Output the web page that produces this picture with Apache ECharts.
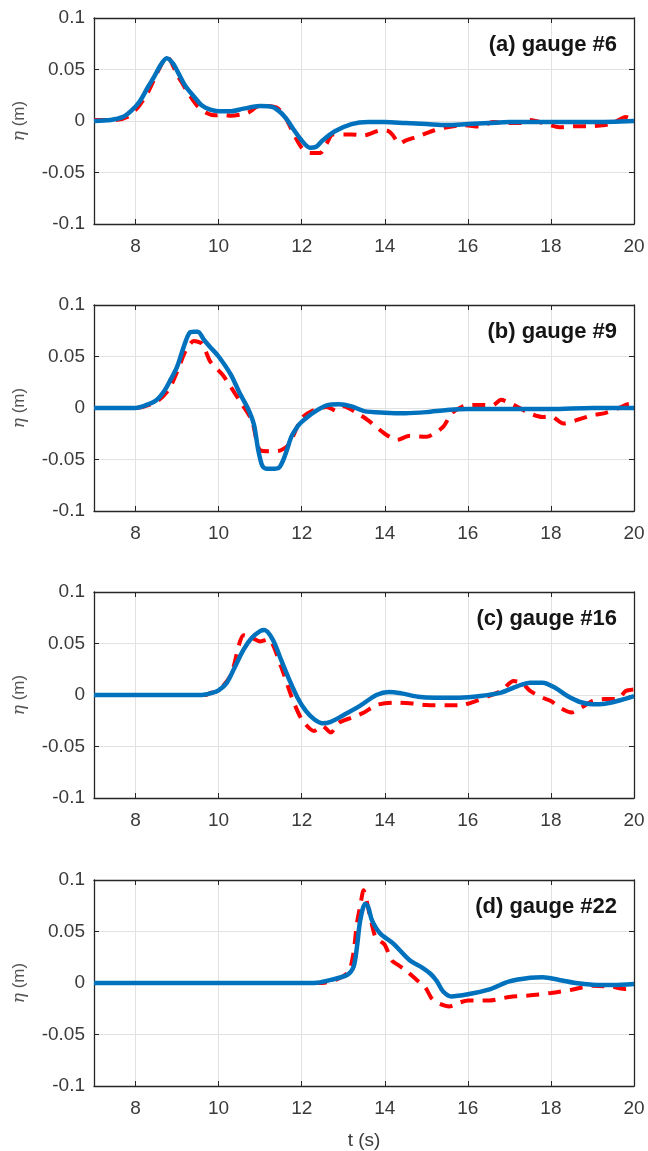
<!DOCTYPE html>
<html>
<head>
<meta charset="utf-8">
<script src="https://cdn.jsdelivr.net/npm/echarts@6/dist/echarts.min.js"></script>
<style>
  html, body { margin: 0; padding: 0; background: #ffffff; }
  #chart { width: 648px; height: 1151px; }
</style>
</head>
<body>
<div id="chart"></div>
<script>
// Free-surface elevation at four wave gauges: measured (red dashed) vs simulated (blue)
const panelLabels = ['(a) gauge #6', '(b) gauge #9', '(c) gauge #16', '(d) gauge #22'];
const xTicks = [8, 10, 12, 14, 16, 18, 20];
const yTicks = [-0.1, -0.05, 0, 0.05, 0.1];

// (a) gauge #6
const tA_obs = [7.0, 7.5, 7.8, 8.05, 8.3, 8.5, 8.65, 8.75, 8.85, 9.0, 9.15, 9.3, 9.5, 9.7, 9.9, 10.1, 10.3, 10.7, 11.0, 11.4, 11.6, 11.8, 12.0, 12.2, 12.45, 12.6, 12.75, 13.2, 13.5, 13.9, 14.1, 14.2, 14.35, 14.5, 14.8, 15.2, 15.5, 15.9, 16.3, 16.6, 17.0, 17.3, 17.5, 17.9, 18.2, 18.6, 19.0, 19.3, 19.5, 19.8, 20.0];
const etaA_obs = [0.001, 0.001, 0.004, 0.013, 0.028, 0.045, 0.057, 0.063, 0.058, 0.045, 0.035, 0.025, 0.014, 0.008, 0.0055, 0.006, 0.005, 0.008, 0.015, 0.013, 0.004, -0.012, -0.026, -0.031, -0.031, -0.022, -0.013, -0.013, -0.014, -0.009, -0.010, -0.014, -0.022, -0.019, -0.015, -0.009, -0.006, -0.004, -0.0055, -0.001, -0.002, -0.002, 0.001, -0.003, -0.006, -0.005, -0.005, -0.004, -0.002, 0.004, 0.001];
const tA_sim = [7.0, 7.4, 7.7, 7.9, 8.1, 8.3, 8.45, 8.6, 8.75, 8.9, 9.05, 9.2, 9.4, 9.6, 9.8, 10.0, 10.3, 10.6, 11.0, 11.3, 11.5, 11.65, 11.8, 12.0, 12.2, 12.35, 12.5, 12.8, 13.2, 13.6, 14.0, 14.5, 15.0, 15.5, 16.0, 16.5, 17.0, 18.0, 19.0, 20.0];
const etaA_sim = [0, 0.001, 0.004, 0.010, 0.019, 0.033, 0.043, 0.054, 0.061, 0.056, 0.045, 0.034, 0.024, 0.015, 0.011, 0.0095, 0.0095, 0.012, 0.0145, 0.0135, 0.008, 0.001, -0.008, -0.019, -0.026, -0.025, -0.019, -0.010, -0.003, -0.001, -0.001, -0.002, -0.003, -0.004, -0.003, -0.002, -0.001, -0.001, -0.001, 0];

// (b) gauge #9
const tB_obs = [7.0, 8.0, 8.5, 8.8, 9.0, 9.2, 9.4, 9.6, 9.8, 10.1, 10.3, 10.5, 10.8, 11.0, 11.3, 11.5, 11.7, 12.0, 12.3, 12.6, 12.85, 13.0, 13.3, 13.6, 14.0, 14.3, 14.6, 15.0, 15.4, 15.6, 15.8, 16.0, 16.4, 16.6, 16.8, 17.0, 17.2, 17.5, 17.8, 18.0, 18.3, 18.6, 19.0, 19.3, 19.6, 19.9, 20.0];
const etaB_obs = [0, 0, 0.006, 0.018, 0.035, 0.055, 0.065, 0.0625, 0.045, 0.032, 0.020, 0.0075, -0.012, -0.041, -0.042, -0.041, -0.035, -0.010, -0.002, 0.001, -0.003, 0.0016, -0.004, -0.012, -0.025, -0.031, -0.027, -0.028, -0.0185, -0.0055, 0, 0.003, 0.003, 0.0026, 0.008, 0.005, 0.001, -0.0055, -0.0087, -0.008, -0.015, -0.012, -0.007, -0.005, -0.0006, 0.004, 0.004];
const tB_sim = [7.0, 8.0, 8.3, 8.5, 8.7, 8.85, 9.0, 9.1, 9.2, 9.3, 9.4, 9.5, 9.65, 9.8, 10.0, 10.3, 10.5, 10.7, 10.85, 10.95, 11.05, 11.15, 11.3, 11.45, 11.55, 11.65, 11.75, 11.9, 12.0, 12.3, 12.6, 12.9, 13.2, 13.5, 14.0, 14.5, 15.0, 15.5, 16.0, 17.0, 18.0, 19.0, 20.0];
const etaB_sim = [0, 0, 0.0035, 0.0075, 0.017, 0.028, 0.040, 0.052, 0.064, 0.073, 0.074, 0.074, 0.066, 0.059, 0.050, 0.032, 0.015, 0.000, -0.016, -0.040, -0.056, -0.059, -0.059, -0.058, -0.051, -0.040, -0.028, -0.018, -0.0135, -0.004, 0.0026, 0.0036, 0.0016, -0.003, -0.0045, -0.005, -0.004, -0.002, -0.001, -0.001, -0.001, 0, 0];

// (c) gauge #16
const tC_obs = [7.0, 9.7, 9.8, 10.0, 10.3, 10.5, 10.6, 10.8, 11.0, 11.2, 11.5, 11.75, 12.0, 12.3, 12.5, 12.7, 12.9, 13.2, 13.5, 13.8, 14.2, 14.6, 15.0, 15.5, 15.9, 16.2, 16.5, 16.8, 17.1, 17.3, 17.5, 17.8, 18.0, 18.2, 18.5, 18.8, 19.0, 19.3, 19.6, 19.8, 20.0];
const etaC_obs = [0, 0, 0.002, 0.004, 0.020, 0.050, 0.058, 0.0555, 0.052, 0.054, 0.028, -0.001, -0.0235, -0.035, -0.030, -0.0365, -0.0268, -0.022, -0.017, -0.0097, -0.0074, -0.008, -0.0097, -0.010, -0.0094, -0.0058, -0.001, 0.0039, 0.0135, 0.012, 0.0039, -0.0026, -0.0058, -0.012, -0.017, -0.0106, -0.0058, -0.004, -0.004, 0.0039, 0.0055];
const tC_sim = [7.0, 9.6, 9.8, 10.0, 10.2, 10.4, 10.6, 10.8, 11.0, 11.1, 11.3, 11.5, 11.7, 11.9, 12.1, 12.3, 12.5, 12.7, 13.0, 13.4, 13.8, 14.1, 14.4, 14.8, 15.2, 15.8, 16.3, 16.8, 17.2, 17.5, 17.8, 18.1, 18.4, 18.7, 19.0, 19.3, 19.6, 20.0];
const etaC_sim = [0, 0, 0.0016, 0.0045, 0.012, 0.028, 0.044, 0.0555, 0.062, 0.063, 0.054, 0.0345, 0.015, -0.0026, -0.0155, -0.0235, -0.0274, -0.026, -0.0197, -0.0106, 0, 0.003, 0.0016, -0.0016, -0.0026, -0.0026, -0.001, 0.0023, 0.0087, 0.012, 0.012, 0.007, -0.001, -0.0068, -0.009, -0.0084, -0.0058, -0.001];

// (d) gauge #22
const tD_obs = [7.0, 12.5, 12.8, 13.0, 13.15, 13.25, 13.33, 13.41, 13.49, 13.55, 13.65, 13.77, 13.88, 14.0, 14.17, 14.3, 14.5, 14.77, 14.97, 15.13, 15.25, 15.55, 15.8, 16.0, 16.5, 17.0, 17.5, 18.0, 18.5, 19.0, 19.5, 19.8, 20.0];
const etaD_obs = [0, 0, 0.003, 0.0065, 0.012, 0.030, 0.058, 0.075, 0.090, 0.082, 0.064, 0.045, 0.041, 0.037, 0.022, 0.018, 0.0125, 0.003, -0.004, -0.015, -0.019, -0.0227, -0.019, -0.017, -0.017, -0.0136, -0.012, -0.0097, -0.0065, -0.0026, -0.004, -0.0058, -0.004];
const tD_sim = [7.0, 12.3, 12.7, 13.1, 13.25, 13.33, 13.41, 13.53, 13.6, 13.69, 13.89, 14.2, 14.6, 14.9, 15.1, 15.25, 15.4, 15.6, 16.0, 16.5, 17.0, 17.5, 17.8, 18.2, 18.6, 19.0, 19.5, 20.0];
const etaD_sim = [0, 0, 0.003, 0.008, 0.016, 0.035, 0.061, 0.077, 0.074, 0.061, 0.048, 0.0385, 0.022, 0.015, 0.009, 0.002, -0.008, -0.013, -0.011, -0.0065, 0.0015, 0.005, 0.0055, 0.003, 0, -0.0016, -0.002, -0.001];

const observed = [[tA_obs, etaA_obs], [tB_obs, etaB_obs], [tC_obs, etaC_obs], [tD_obs, etaD_obs]];
const simulated = [[tA_sim, etaA_sim], [tB_sim, etaB_sim], [tC_sim, etaC_sim], [tD_sim, etaD_sim]];

const zip = (t, v) => t.map((x, i) => [x, v[i]]);

const FONT = '"Liberation Sans", Arial, Helvetica, sans-serif';
const AXIS_COLOR = '#262626';
const LABEL_COLOR = '#3a3a3a';
const GRID_COLOR = '#e2e2e2';
const gridTops = [18, 305, 592, 880];
const gridHeight = 206;

const grids = [], xAxes = [], yAxes = [], series = [], titles = [];

gridTops.forEach((top, i) => {
  grids.push({ left: 94, right: 14, top: top, height: gridHeight, containLabel: false });

  const axisLine = { show: true, onZero: false, lineStyle: { color: AXIS_COLOR, width: 1.3 } };
  const tick = { show: true, inside: true, length: 5, lineStyle: { color: AXIS_COLOR, width: 1 } };

  xAxes.push({
    gridIndex: i, type: 'value', min: 7, max: 20, position: 'bottom',
    axisLine: axisLine,
    axisTick: Object.assign({ customValues: xTicks }, tick),
    axisLabel: { customValues: xTicks, color: LABEL_COLOR, fontFamily: FONT, fontSize: 19, margin: 13 },
    splitLine: { show: true, lineStyle: { color: GRID_COLOR, width: 1 } },
    name: i === 3 ? 't (s)' : '',
    nameLocation: 'middle', nameGap: 45,
    nameTextStyle: { color: LABEL_COLOR, fontFamily: FONT, fontSize: 19 }
  });
  xAxes.push({
    gridIndex: i, type: 'value', min: 7, max: 20, position: 'top',
    axisLine: axisLine,
    axisTick: Object.assign({ customValues: xTicks }, tick),
    axisLabel: { show: false },
    splitLine: { show: false }
  });
  yAxes.push({
    gridIndex: i, type: 'value', min: -0.1, max: 0.1, interval: 0.05, position: 'left',
    axisLine: axisLine,
    axisTick: tick,
    axisLabel: {
      color: LABEL_COLOR, fontFamily: FONT, fontSize: 19, margin: 9,
      formatter: v => String(parseFloat(v.toFixed(2)))
    },
    splitLine: { show: true, lineStyle: { color: GRID_COLOR, width: 1 } },
    name: '{e|η} (m)',
    nameLocation: 'middle', nameGap: 66, nameRotate: 90,
    nameTextStyle: {
      color: '#555', fontFamily: FONT, fontSize: 17,
      rich: { e: { color: '#555', fontFamily: '"DejaVu Serif", serif', fontStyle: 'italic', fontSize: 17 } }
    }
  });
  yAxes.push({
    gridIndex: i, type: 'value', min: -0.1, max: 0.1, interval: 0.05, position: 'right',
    axisLine: axisLine,
    axisTick: tick,
    axisLabel: { show: false },
    splitLine: { show: false }
  });

  titles.push({
    text: panelLabels[i], right: 31, top: top + 16, padding: 0,
    textStyle: { fontFamily: FONT, fontSize: 22, fontWeight: 'bold', color: '#151515' }
  });

  series.push({
    type: 'line', xAxisIndex: 2 * i, yAxisIndex: 2 * i,
    data: zip(observed[i][0], observed[i][1]),
    showSymbol: false, symbol: 'none', smooth: 0.25,
    lineStyle: { color: '#ff0000', width: 4, type: [13, 9], cap: 'butt' },
    z: 2
  });
  series.push({
    type: 'line', xAxisIndex: 2 * i, yAxisIndex: 2 * i,
    data: zip(simulated[i][0], simulated[i][1]),
    showSymbol: false, symbol: 'none', smooth: 0.3,
    lineStyle: { color: '#0072bd', width: 4.5 },
    z: 3
  });
});

const chart = echarts.init(document.getElementById('chart'), null, { renderer: 'canvas' });
chart.setOption({
  animation: false,
  backgroundColor: '#ffffff',
  title: titles,
  grid: grids,
  xAxis: xAxes,
  yAxis: yAxes,
  series: series
});
</script>
</body>
</html>
